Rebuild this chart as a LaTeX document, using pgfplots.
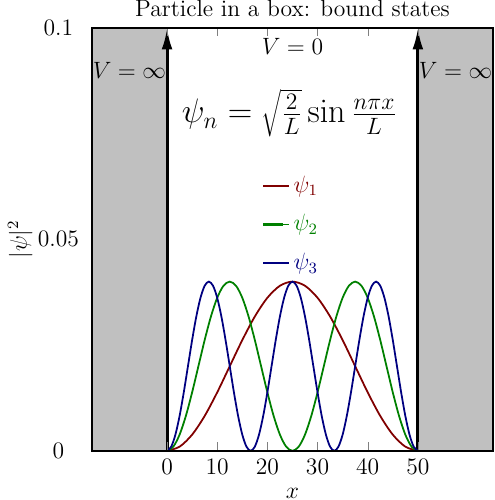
\documentclass[border=0pt,12pt]{standalone}
\usepackage{pgfplots}
\pgfplotsset{compat=1.18}
\usetikzlibrary{arrows.meta}
\definecolor{c1}{RGB}{128,0,0}
\definecolor{c2}{RGB}{0,128,0}
\definecolor{c3}{RGB}{0,0,128}
\definecolor{wall}{RGB}{192,192,192}
\begin{document}
\begin{tikzpicture}
\begin{axis}[
    width=204pt, height=215pt, scale only axis,
    xmin=-15, xmax=65, ymin=0, ymax=0.1,
    xtick={0,10,20,30,40,50},
    ytick={0,0.05,0.1},
    yticklabels={0,0.05,0.1},
    scaled y ticks=false,
    ytick style={draw=none},
    yticklabel style={anchor=center, xshift=-17pt},
    tick align=inside,
    axis line style={line width=1pt},
    axis on top,
    title={Particle in a box: bound states},
    title style={inner sep=0pt, anchor=south, yshift=-0.5pt},
    xlabel={$x$}, ylabel={$|\psi|^2$},
    xlabel style={inner sep=1pt, yshift=-1.7pt},
    ylabel shift=-5.5pt,
    legend style={draw=none, fill=none, at={(axis cs:24.9,0.067)}, anchor=north,
        row sep=5.6pt},
    legend cell align=left,
    legend image code/.code={\draw[#1, line width=1.1pt] (0cm,0cm) -- (0.36cm,0cm);
        \path (0.36cm,0cm) -- (0.46cm,0cm);},
]
% walls
\addplot[fill=wall, draw=none, forget plot] coordinates {(-15,0) (0,0) (0,0.1) (-15,0.1)} \closedcycle;
\addplot[fill=wall, draw=none, forget plot] coordinates {(50,0) (65,0) (65,0.1) (50,0.1)} \closedcycle;
\addplot[line width=1.5pt, -{Latex[length=11pt,width=5.5pt]}, forget plot] coordinates {(0,0) (0,0.1)};
\addplot[line width=1.5pt, -{Latex[length=11pt,width=5.5pt]}, forget plot] coordinates {(50,0) (50,0.1)};

% |psi_1|^2
\addplot[c1, line width=0.9pt, smooth] coordinates {
(0,0) (2.5,0.000979) (5,0.003820) (7.5,0.008244) (10,0.013820) (12.5,0.020000)
(15,0.026180) (17.5,0.031756) (20,0.036180) (22.5,0.039021) (25,0.040000)
(27.5,0.039021) (30,0.036180) (32.5,0.031756) (35,0.026180) (37.5,0.020000)
(40,0.013820) (42.5,0.008244) (45,0.003820) (47.5,0.000979) (50,0)};
\addlegendentry{\textcolor{c1}{$\psi_1$}}

% |psi_2|^2
\addplot[c2, line width=0.9pt, smooth] coordinates {
(0,0) (1.25,0.000979) (2.5,0.003820) (3.75,0.008244) (5,0.013820) (6.25,0.020000)
(7.5,0.026180) (8.75,0.031756) (10,0.036180) (11.25,0.039021) (12.5,0.040000)
(13.75,0.039021) (15,0.036180) (16.25,0.031756) (17.5,0.026180) (18.75,0.020000)
(20,0.013820) (21.25,0.008244) (22.5,0.003820) (23.75,0.000979) (25,0)
(26.25,0.000979) (27.5,0.003820) (28.75,0.008244) (30,0.013820) (31.25,0.020000)
(32.5,0.026180) (33.75,0.031756) (35,0.036180) (36.25,0.039021) (37.5,0.040000)
(38.75,0.039021) (40,0.036180) (41.25,0.031756) (42.5,0.026180) (43.75,0.020000)
(45,0.013820) (46.25,0.008244) (47.5,0.003820) (48.75,0.000979) (50,0)};
\addlegendentry{\textcolor{c2}{$\psi_2$}}

% |psi_3|^2
\addplot[c3, line width=0.9pt, smooth] coordinates {
(0,0) (0.833,0.000979) (1.667,0.003820) (2.5,0.008244) (3.333,0.013820) (4.167,0.020000)
(5,0.026180) (5.833,0.031756) (6.667,0.036180) (7.5,0.039021) (8.333,0.040000)
(9.167,0.039021) (10,0.036180) (10.833,0.031756) (11.667,0.026180) (12.5,0.020000)
(13.333,0.013820) (14.167,0.008244) (15,0.003820) (15.833,0.000979) (16.667,0)
(17.5,0.000979) (18.333,0.003820) (19.167,0.008244) (20,0.013820) (20.833,0.020000)
(21.667,0.026180) (22.5,0.031756) (23.333,0.036180) (24.167,0.039021) (25,0.040000)
(25.833,0.039021) (26.667,0.036180) (27.5,0.031756) (28.333,0.026180) (29.167,0.020000)
(30,0.013820) (30.833,0.008244) (31.667,0.003820) (32.5,0.000979) (33.333,0)
(34.167,0.000979) (35,0.003820) (35.833,0.008244) (36.667,0.013820) (37.5,0.020000)
(38.333,0.026180) (39.167,0.031756) (40,0.036180) (40.833,0.039021) (41.667,0.040000)
(42.5,0.039021) (43.333,0.036180) (44.167,0.031756) (45,0.026180) (45.833,0.020000)
(46.667,0.013820) (47.5,0.008244) (48.333,0.003820) (49.167,0.000979) (50,0)};
\addlegendentry{\textcolor{c3}{$\psi_3$}}

\node at (axis cs:-7.5,0.090) {$V=\infty$};
\node at (axis cs:57.5,0.090) {$V=\infty$};
\node at (axis cs:25,0.0955) {$V=0$};
\node[font=\fontsize{18.6}{22}\selectfont] at (axis cs:24.4,0.0798) {$\psi_n=\sqrt{\frac{2}{L}}\sin\frac{n\pi x}{L}$};
\end{axis}
\end{tikzpicture}
\end{document}
